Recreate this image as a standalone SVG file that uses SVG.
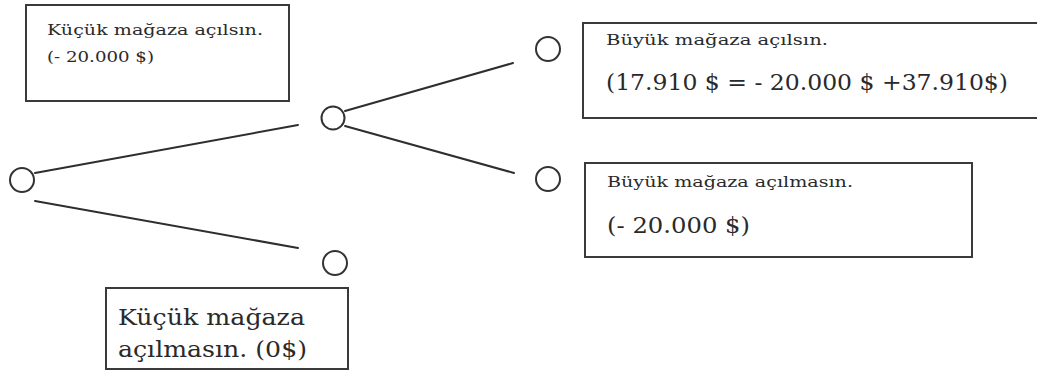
<svg xmlns="http://www.w3.org/2000/svg" width="1037" height="372" viewBox="0 0 1037 372">
  <style>
    .box { fill: #ffffff; stroke: #3a3a3a; stroke-width: 2; }
    .node { fill: #ffffff; stroke: #333333; stroke-width: 2; }
    .edge { stroke: #2e2e2e; stroke-width: 2; fill: none; stroke-linecap: round; }
    .t { font-family: "DejaVu Serif", "Liberation Serif", serif; fill: #2a2a2a; }
    .s { font-size: 15px; }
    .l { font-size: 22px; }
  </style>
  <rect width="1037" height="372" fill="#ffffff"/>

  <!-- connectors of the decision tree -->
  <g id="connectors">
    <line class="edge" x1="35" y1="173" x2="298" y2="125"/>
    <line class="edge" x1="35" y1="201" x2="298" y2="248"/>
    <line class="edge" x1="345" y1="111" x2="513" y2="63"/>
    <line class="edge" x1="345" y1="126" x2="514" y2="173"/>
  </g>

  <!-- decision points -->
  <g id="root"><circle class="node" cx="22" cy="180" r="12"/></g>
  <g id="small-open"><circle class="node" cx="333" cy="118" r="11.5"/></g>
  <g id="small-closed"><circle class="node" cx="335" cy="263" r="12"/></g>
  <g id="big-open"><circle class="node" cx="548" cy="49" r="12"/></g>
  <g id="big-closed"><circle class="node" cx="548" cy="179" r="12"/></g>

  <!-- labels -->
  <g id="label-small-open">
    <rect class="box" x="26" y="5" width="263" height="96"/>
    <text class="t s" x="47" y="35" textLength="216" lengthAdjust="spacingAndGlyphs">Küçük mağaza açılsın.</text>
    <text class="t s" x="47" y="62" textLength="107" lengthAdjust="spacingAndGlyphs">(- 20.000 $)</text>
  </g>

  <g id="label-big-open">
    <rect class="box" x="583" y="23" width="460" height="95"/>
    <text class="t s" x="606" y="45" textLength="222" lengthAdjust="spacingAndGlyphs">Büyük mağaza açılsın.</text>
    <text class="t l" x="606" y="90" textLength="402" lengthAdjust="spacingAndGlyphs">(17.910 $ = - 20.000 $ +37.910$)</text>
  </g>

  <g id="label-big-closed">
    <rect class="box" x="585" y="163" width="387" height="94"/>
    <text class="t s" x="607" y="187" textLength="246" lengthAdjust="spacingAndGlyphs">Büyük mağaza açılmasın.</text>
    <text class="t l" x="607" y="233" textLength="143" lengthAdjust="spacingAndGlyphs">(- 20.000 $)</text>
  </g>

  <g id="label-small-closed">
    <rect class="box" x="106" y="288" width="242" height="81"/>
    <text class="t l" x="118" y="325" textLength="187" lengthAdjust="spacingAndGlyphs">Küçük mağaza</text>
    <text class="t l" x="118" y="357" textLength="189" lengthAdjust="spacingAndGlyphs">açılmasın. (0$)</text>
  </g>
</svg>
